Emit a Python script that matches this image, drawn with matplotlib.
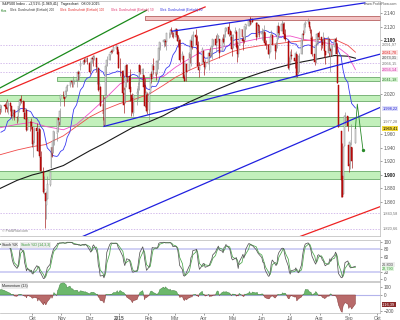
import pandas as pd
import matplotlib
matplotlib.use("Agg")
import matplotlib.pyplot as plt
import matplotlib.dates as mdates
import matplotlib.transforms as mtrans

plt.rcParams["font.family"] = ["Liberation Sans", "DejaVu Sans"]

# trading days Aug 2014 - Sep 2015 (first 20 rows only feed the indicators)
holidays = ["2014-09-01", "2014-11-27", "2014-12-25", "2015-01-01", "2015-01-19",
            "2015-02-16", "2015-04-03", "2015-05-25", "2015-07-03", "2015-09-07"]
dates = pd.bdate_range("2014-08-04", "2015-09-08", freq="C", holidays=holidays)

opens = [
    1926, 1937, 1918, 1923, 1910, 1934, 1936, 1935, 1947, 1959, 1958, 1972, 1980, 1987, 1992, 1992, 1998, 2000, 1998, 1999,
    2004, 2003, 2001, 1999, 2007, 2002, 1989, 1992, 1996, 1986, 1982, 1999, 2004, 2013, 2009, 1992, 1983, 1997, 1966, 1979, 1978,
    1971, 1945, 1948, 1970, 1964, 1935, 1968, 1926, 1905, 1878, 1874, 1855, 1865, 1885, 1910, 1941, 1932, 1952, 1962, 1964, 1984, 1978, 2012,
    2019, 2015, 2016, 2024, 2032, 2032, 2038, 2039, 2039, 2040, 2039, 2041, 2052, 2047, 2061, 2065, 2070, 2067, 2074,
    2066, 2054, 2067, 2074, 2072, 2074, 2056, 2058, 2028, 2030, 2005, 1986, 1974, 2019, 2061, 2070, 2081, 2083, 2084, 2087, 2089, 2082,
    2059, 2054, 2022, 2006, 2031, 2063, 2046, 2031, 2019, 2014, 1992, 2020, 2021, 2034, 2063, 2050, 2048, 2033, 2002, 2019,
    1997, 2022, 2049, 2043, 2062, 2053, 2050, 2068, 2070, 2088, 2097, 2099, 2098, 2097, 2110, 2109, 2115, 2113, 2110,
    2105, 2116, 2107, 2099, 2100, 2072, 2076, 2045, 2041, 2064, 2055, 2080, 2073, 2098, 2091, 2108, 2104, 2093, 2060, 2056, 2065, 2084,
    2067, 2060, 2064, 2081, 2077, 2081, 2091, 2102, 2093, 2097, 2105, 2102, 2084, 2102, 2098, 2107, 2113, 2120, 2108, 2113, 2105,
    2088, 2110, 2112, 2092, 2080, 2092, 2116, 2102, 2100, 2100, 2122, 2121, 2130, 2128, 2125, 2130, 2125, 2105, 2122, 2121,
    2109, 2110, 2111, 2112, 2096, 2093, 2080, 2082, 2107, 2107, 2092, 2084, 2098, 2102, 2121, 2113, 2124, 2124, 2109, 2103, 2099, 2062,
    2068, 2078, 2074, 2070, 2079, 2049, 2053, 2080, 2100, 2109, 2111, 2124, 2127, 2127, 2118, 2115, 2103, 2079, 2070, 2094, 2107, 2111,
    2104, 2097, 2096, 2100, 2083, 2081, 2102, 2081, 2086, 2083, 2089, 2102, 2095, 2076, 2034, 1965, 1898, 1872, 1943, 1987, 1987,
    1945, 1917, 1950, 1941, 1948,
]
highs = [
    1942, 1939, 1929, 1928, 1932, 1945, 1940, 1949, 1955, 1965, 1972, 1982, 1988, 1994, 1994, 2001, 2005, 2002, 1999, 2004,
    2006, 2009, 2012, 2008, 2008, 2002, 1996, 1997, 1996, 1987, 2002, 2010, 2012, 2019, 2009, 1996, 1999, 1997, 1986, 1980, 1985,
    1971, 1952, 1971, 1977, 1964, 1971, 1968, 1935, 1912, 1898, 1874, 1877, 1898, 1905, 1942, 1950, 1961, 1965, 1964, 1985, 1991, 1999, 2019,
    2024, 2016, 2024, 2032, 2034, 2038, 2041, 2040, 2046, 2041, 2043, 2056, 2052, 2054, 2071, 2071, 2074, 2074, 2075,
    2066, 2068, 2076, 2078, 2078, 2074, 2060, 2058, 2056, 2032, 2018, 2016, 2017, 2061, 2077, 2079, 2086, 2087, 2093, 2094, 2089, 2086,
    2073, 2055, 2030, 2030, 2064, 2065, 2050, 2057, 2019, 2021, 2020, 2029, 2038, 2064, 2063, 2058, 2048, 2043, 2025, 2023,
    2023, 2050, 2054, 2064, 2073, 2057, 2071, 2074, 2089, 2097, 2102, 2101, 2102, 2111, 2110, 2117, 2120, 2114, 2112,
    2118, 2116, 2107, 2105, 2101, 2083, 2076, 2050, 2066, 2065, 2082, 2080, 2106, 2098, 2114, 2117, 2107, 2098, 2067, 2067, 2089, 2084,
    2067, 2072, 2087, 2090, 2086, 2093, 2102, 2107, 2099, 2111, 2107, 2102, 2104, 2109, 2109, 2120, 2120, 2126, 2117, 2113, 2105,
    2109, 2120, 2115, 2099, 2093, 2118, 2117, 2106, 2111, 2121, 2124, 2131, 2134, 2134, 2133, 2132, 2126, 2126, 2123, 2122,
    2118, 2117, 2122, 2112, 2100, 2093, 2086, 2109, 2115, 2107, 2092, 2098, 2106, 2127, 2121, 2129, 2126, 2126, 2117, 2109, 2099, 2075,
    2083, 2086, 2078, 2083, 2079, 2075, 2081, 2100, 2111, 2115, 2125, 2128, 2132, 2128, 2121, 2117, 2106, 2079, 2095, 2110, 2111, 2114,
    2105, 2102, 2112, 2104, 2083, 2106, 2103, 2090, 2093, 2093, 2103, 2104, 2096, 2076, 2034, 1965, 1948, 1943, 1988, 1993, 1987,
    1945, 1949, 1975, 1941, 1971,
]
lows = [
    1921, 1914, 1911, 1904, 1904, 1934, 1929, 1935, 1945, 1941, 1958, 1972, 1976, 1986, 1984, 1992, 1998, 1996, 1991, 1994,
    1994, 1999, 1993, 1991, 1995, 1985, 1982, 1985, 1981, 1977, 1980, 1993, 2003, 2006, 1991, 1983, 1979, 1965, 1966, 1965, 1968,
    1941, 1926, 1948, 1958, 1935, 1926, 1927, 1906, 1874, 1872, 1821, 1835, 1865, 1883, 1910, 1927, 1932, 1945, 1951, 1964, 1974, 1974, 2002,
    2014, 2002, 2014, 2016, 2025, 2031, 2035, 2031, 2031, 2035, 2030, 2041, 2041, 2041, 2056, 2065, 2064, 2067, 2064,
    2049, 2054, 2066, 2062, 2070, 2052, 2035, 2024, 2028, 2002, 1982, 1972, 1974, 2019, 2061, 2070, 2079, 2081, 2084, 2086, 2079, 2058,
    2046, 2017, 1992, 2006, 2031, 2038, 2023, 2009, 1988, 1992, 1988, 2004, 2013, 2026, 2050, 2041, 2023, 2001, 1994, 1991,
    1981, 2022, 2036, 2043, 2049, 2041, 2050, 2057, 2070, 2085, 2089, 2093, 2091, 2085, 2103, 2104, 2109, 2104, 2103,
    2104, 2098, 2089, 2098, 2067, 2072, 2044, 2040, 2041, 2039, 2055, 2066, 2061, 2086, 2091, 2104, 2091, 2061, 2045, 2056, 2065, 2068,
    2048, 2057, 2056, 2076, 2075, 2072, 2091, 2092, 2083, 2097, 2100, 2073, 2084, 2095, 2091, 2104, 2113, 2106, 2100, 2094, 2077,
    2088, 2110, 2088, 2068, 2075, 2092, 2104, 2085, 2096, 2100, 2117, 2121, 2124, 2122, 2124, 2126, 2100, 2105, 2113, 2105,
    2100, 2099, 2111, 2093, 2086, 2079, 2073, 2082, 2107, 2093, 2072, 2082, 2088, 2102, 2108, 2113, 2119, 2108, 2102, 2098, 2057, 2056,
    2068, 2072, 2058, 2044, 2045, 2049, 2053, 2080, 2094, 2102, 2111, 2119, 2124, 2118, 2111, 2097, 2077, 2063, 2066, 2094, 2094, 2102,
    2085, 2088, 2096, 2075, 2064, 2081, 2076, 2052, 2076, 2078, 2079, 2094, 2070, 2036, 1971, 1867, 1868, 1872, 1943, 1975, 1965,
    1904, 1909, 1944, 1911, 1948,
]
closes = [
    1939, 1920, 1920, 1910, 1932, 1937, 1934, 1947, 1955, 1955, 1972, 1982, 1987, 1992, 1988, 1998, 2000, 2000, 1997, 2003,
    2002, 2001, 1998, 2008, 2002, 1988, 1996, 1997, 1986, 1984, 1999, 2002, 2011, 2010, 1994, 1983, 1998, 1966, 1983, 1978, 1972,
    1946, 1946, 1968, 1965, 1935, 1969, 1928, 1906, 1875, 1878, 1862, 1863, 1887, 1904, 1941, 1927, 1951, 1965, 1962, 1985, 1982, 1995, 2018,
    2018, 2012, 2024, 2031, 2032, 2038, 2040, 2038, 2039, 2040, 2041, 2052, 2049, 2053, 2064, 2069, 2067, 2073, 2068,
    2053, 2067, 2074, 2072, 2075, 2060, 2060, 2026, 2035, 2002, 1990, 1973, 2013, 2061, 2071, 2079, 2082, 2082, 2089, 2091, 2080, 2059,
    2058, 2021, 2003, 2026, 2062, 2045, 2028, 2023, 2011, 1993, 2019, 2023, 2032, 2063, 2052, 2057, 2030, 2002, 2021, 1995,
    2021, 2050, 2042, 2063, 2055, 2047, 2069, 2069, 2088, 2097, 2100, 2100, 2097, 2110, 2110, 2115, 2114, 2111, 2105,
    2117, 2108, 2099, 2101, 2071, 2079, 2044, 2040, 2066, 2053, 2081, 2074, 2100, 2089, 2108, 2104, 2092, 2061, 2056, 2061, 2086, 2068,
    2060, 2067, 2081, 2076, 2082, 2091, 2102, 2092, 2096, 2107, 2105, 2081, 2100, 2097, 2108, 2113, 2118, 2109, 2115, 2107, 2086,
    2108, 2114, 2089, 2080, 2088, 2116, 2105, 2099, 2098, 2121, 2123, 2129, 2128, 2126, 2131, 2126, 2104, 2123, 2121, 2107,
    2112, 2110, 2114, 2096, 2093, 2079, 2080, 2105, 2109, 2094, 2084, 2096, 2100, 2121, 2110, 2123, 2124, 2109, 2102, 2101, 2058, 2063,
    2077, 2077, 2069, 2081, 2047, 2051, 2077, 2100, 2109, 2107, 2124, 2127, 2128, 2119, 2114, 2102, 2080, 2068, 2093, 2109, 2109, 2104,
    2098, 2093, 2100, 2084, 2078, 2104, 2084, 2086, 2083, 2092, 2102, 2097, 2080, 2036, 1971, 1893, 1868, 1941, 1988, 1989, 1972,
    1914, 1949, 1951, 1921, 1969,
]

# longer moving averages
ma_dates = ["2014-08-28", "2014-09-15", "2014-10-01", "2014-10-15", "2014-11-03", "2014-11-17",
            "2014-12-01", "2014-12-15", "2015-01-02", "2015-01-15", "2015-02-02", "2015-02-17",
            "2015-03-02", "2015-03-16", "2015-04-01", "2015-04-15", "2015-05-01", "2015-05-15",
            "2015-06-01", "2015-06-15", "2015-07-01", "2015-07-15", "2015-08-03", "2015-08-17",
            "2015-08-31", "2015-09-08"]
sma200 = [1880, 1892, 1900, 1905, 1914, 1925, 1936, 1946, 1960, 1970, 1979, 1988, 1998, 2008,
          2018, 2027, 2036, 2044, 2052, 2058, 2064, 2068, 2073, 2077, 2076, 2073]
sma100 = [1930, 1937, 1942, 1945, 1958, 1972, 1986, 1996, 2006, 2011, 2020, 2033, 2045, 2055,
          2065, 2073, 2083, 2088, 2092, 2094, 2097, 2099, 2101, 2101, 2092, 2082]
sma50 = [1970, 1975, 1978, 1972, 1967, 1975, 1992, 2010, 2035, 2043, 2043, 2046, 2060, 2072,
         2085, 2088, 2093, 2098, 2103, 2105, 2106, 2101, 2097, 2093, 2078, 2056]

# support / resistance zones (low, high, start date)
green_zones = [(2039.5, 2044.5, "2014-10-27"), (2010, 2018, "2014-08-20"),
               (1972, 1986, "2014-08-20"), (1894, 1906, "2014-08-20")]
red_zone = (2130, 2135, "2015-01-28")
dotted_levels = [2091.97, 2066.15, 2053.0, 1843.6, 1820.66]

# trend lines: (date0, price0, date1, price1, colour)
trend_lines = [
    ("2014-08-28", 2029, "2015-01-30", 2144, "#1a8a1a"),
    ("2014-08-28", 2021, "2015-04-02", 2149, "#ee2222"),
    ("2015-02-26", 2113, "2015-09-18", 2155, "#2020e0"),
    ("2014-12-16", 1972, "2015-10-04", 2079, "#2020e0"),
    ("2014-11-17", 1805, "2015-10-04", 2000, "#2020e0"),
    ("2015-07-04", 1805, "2015-10-04", 1853, "#ee2222"),
]
proj_dates = ["2015-09-08", "2015-09-10", "2015-09-16"]
proj_prices = [1969, 2005, 1937]

right_labels = [
    ("2.091,97", 2093.0, "#707070", None),
    ("2.081,70", 2081.7, "#dd2222", "#fbe0e0"),
    ("2.073,31", 2073.3, "#404040", "#f0f0f0"),
    ("2.066,15", 2065.5, "#707070", None),
    ("2.056,14", 2056.1, "#d0209a", "#fbe0f4"),
    ("2.041,18", 2041.2, "#2a7a2a", "#d8f4d4"),
    ("1.998,22", 1998.2, "#2020d0", "#e0e0fb"),
    ("1.977,28", 1978.5, "#707070", None),
    ("1.969,41", 1969.4, "#000000", "#f5dc3c"),
    ("1.843,58", 1843.6, "#707070", None),
    ("1.820,66", 1820.7, "#707070", None),
]
price_ticks = [1860, 1880, 1900, 1920, 1940, 1960, 2020, 2100, 2120, 2140]
month_starts = ["2014-10-01", "2014-11-01", "2014-12-01", "2015-01-01", "2015-02-01", "2015-03-01",
                "2015-04-01", "2015-05-01", "2015-06-01", "2015-07-01", "2015-08-01", "2015-09-01",
                "2015-10-01"]
month_labels = ["Okt", "Nov", "Dez", "2015", "Feb", "Mär", "Apr", "Mai", "Jun", "Jul", "Aug", "Sep", "Okt"]

df = pd.DataFrame({"o": opens, "h": highs, "l": lows, "c": closes}, index=dates)
x = mdates.date2num(df.index)
sma20 = df.c.rolling(20).mean()
ll = df.l.rolling(14).min()
hh = df.h.rolling(14).max()
slow_k = (100 * (df.c - ll) / (hh - ll)).rolling(3).mean()
slow_d = slow_k.rolling(3).mean()
mom = df.c - df.c.shift(13)

x0 = mdates.date2num(pd.Timestamp("2014-08-28"))
x1 = mdates.date2num(pd.Timestamp("2015-10-04"))
d2n = lambda s: mdates.date2num(pd.Timestamp(s))

fig = plt.figure(figsize=(4, 3.2), dpi=100)
ax = fig.add_axes([0, 1 - 236 / 320, 380 / 400, 235 / 320])
ax_st = fig.add_axes([0, 1 - 281 / 320, 380 / 400, 41 / 320])
ax_mo = fig.add_axes([0, 1 - 313 / 320, 380 / 400, 31 / 320])

for a in (ax, ax_st, ax_mo):
    a.set_xlim(x0, x1)
    a.yaxis.tick_right()
    a.tick_params(axis="both", labelsize=3.4, length=1.5, width=0.4, pad=1,
                  colors="#555555")
    for sp in a.spines.values():
        sp.set_color("#b8b8b8")
        sp.set_linewidth(0.5)
    a.spines["left"].set_visible(False)
ax.set_xticks([])
ax_st.set_xticks([])

# zones and levels
for lo, hi, start in green_zones:
    ax.fill_between([d2n(start), x1], lo, hi, facecolor="#c2f0bb", edgecolor="#6aaa6a",
                    lw=0.6, zorder=1)
ax.fill_between([d2n(red_zone[2]), x1], red_zone[0], red_zone[1], facecolor="#f3c4c4",
                edgecolor="#b86262", lw=0.6, zorder=1)
ax.hlines(dotted_levels, x0, x1, colors="#c4a2e4", linestyles=(0, (2, 2)), lw=0.5, zorder=1)

# moving averages
mx = mdates.date2num(pd.to_datetime(ma_dates))
ax.plot(mx, sma200, color="#1a1a1a", lw=0.8, zorder=2)
ax.plot(mx, sma100, color="#f04a4a", lw=0.6, zorder=2)
ax.plot(mx, sma50, color="#f050c8", lw=0.6, zorder=2)
ax.plot(x, sma20, color="#3a3af0", lw=0.6, zorder=2)

# candles
up = (df.c >= df.o).values
dn = ~up
ax.vlines(x[up], df.l[up], df.h[up], color="#8a8a8a", lw=0.45, zorder=3)
ax.vlines(x[dn], df.l[dn], df.h[dn], color="#a01010", lw=0.45, zorder=3)
body = (df.c - df.o).abs().clip(lower=0.8)
bottom = df[["o", "c"]].min(axis=1)
ax.bar(x[up], body[up], bottom=bottom[up], width=0.95, color="#f6f6f6",
       edgecolor="#8a8a8a", lw=0.35, zorder=4)
ax.bar(x[dn], body[dn], bottom=bottom[dn], width=0.95, color="#d21414",
       edgecolor="#a00000", lw=0.35, zorder=4)

# trend lines
for da, pa, db, pb, col in trend_lines:
    ax.plot([d2n(da), d2n(db)], [pa, pb], color=col, lw=0.9, zorder=5)
px = [d2n(d) for d in proj_dates]
ax.plot(px, proj_prices, color="#2a8a2a", lw=0.6, zorder=5)
ax.plot(px[-1], proj_prices[-1], marker="o", ms=1.4, color="#2a8a2a", zorder=5)

ax.set_ylim(1809.6, 2157.8)
ax.set_yticks(price_ticks)
ax.set_yticklabels([f"{v:,}".replace(",", ".") for v in price_ticks])
for t, v in zip(ax.get_yticklabels(), price_ticks):
    if v % 100 == 0:
        t.set_fontweight("bold")
        t.set_color("#222222")

tr = mtrans.blended_transform_factory(ax.transAxes, ax.transData)
for txt, val, col, bg in right_labels:
    kw = dict(boxstyle="square,pad=0.12", fc=bg, ec="none") if bg else None
    ax.text(1.006, val, txt, transform=tr, fontsize=2.8, color=col, va="center",
            ha="left", bbox=kw, clip_on=False, zorder=6)

# header
fig.text(0.004, 1 - 4 / 320, "S&P500 Index - +2,51% (1.969,41)   Tageschart   08.09.2015",
         fontsize=2.6, color="#111111", va="center")
hdr = [("Kurs", "#1a7a1a", 1), ("Gleit. Durchschnitt (Einfach) 200", "#333333", 10),
       ("Gleit. Durchschnitt (Einfach) 100", "#e02a2a", 60),
       ("Gleit. Durchschnitt (Einfach) 50", "#e0306a", 111),
       ("Gleit. Durchschnitt (Einfach) 20", "#2a2ae0", 160)]
for txt, col, xp in hdr:
    fig.text(xp / 400, 1 - 10.5 / 320, txt, fontsize=2.2, color=col, va="center")
fig.text(0.99, 1 - 4 / 320, "www.ProfitFlow.com", fontsize=2.6, color="#555555",
         ha="right", va="center")
ax.text(0.004, 0.015, "© ProfitFlow.com", transform=ax.transAxes, fontsize=2.4,
        color="#777777", zorder=6)

# stochastics
ax_st.axhline(80, color="#c8c8f2", lw=1.2, zorder=1)
ax_st.axhline(20, color="#c8c8f2", lw=1.2, zorder=1)
ax_st.plot(x, slow_k, color="#555555", lw=0.55, zorder=3)
ax_st.plot(x, slow_d, color="#4aa84a", lw=0.55, zorder=2)
ax_st.set_ylim(-5.4, 105.4)
ax_st.set_yticks([0, 20, 60, 80, 100])
ax_st.text(0.004, 0.93, "Stoch %K", transform=ax_st.transAxes, fontsize=2.6,
           color="#222222", va="top", bbox=dict(boxstyle="square,pad=0.2", fc="#ececec", ec="none"))
ax_st.text(0.055, 0.93, "Stoch %D (14,3,3)", transform=ax_st.transAxes, fontsize=2.6,
           color="#3a9a3a", va="top", bbox=dict(boxstyle="square,pad=0.2", fc="#ececec", ec="none"))
trs = mtrans.blended_transform_factory(ax_st.transAxes, ax_st.transData)
ax_st.text(1.006, 40, "26,803", transform=trs, fontsize=2.8, color="#444444", va="center",
           bbox=dict(boxstyle="square,pad=0.12", fc="#eeeeee", ec="none"), clip_on=False)
ax_st.text(1.006, 29, "22,790", transform=trs, fontsize=2.8, color="#3a9a3a", va="center",
           bbox=dict(boxstyle="square,pad=0.12", fc="#e2f4e0", ec="none"), clip_on=False)

# momentum
ax_mo.axhline(0, color="#b4b4ec", lw=0.8, zorder=1)
ax_mo.fill_between(x, 0, mom, where=mom >= 0, interpolate=True, facecolor="#6cb86c",
                   edgecolor="#3a7a3a", lw=0.3, zorder=2)
ax_mo.fill_between(x, 0, mom, where=mom < 0, interpolate=True, facecolor="#b86a6a",
                   edgecolor="#7a2a2a", lw=0.3, zorder=2)
ax_mo.set_ylim(-225, 162)
ax_mo.set_yticks([-200, 0, 100])
ax_mo.text(0.004, 0.93, "Momentum (13)", transform=ax_mo.transAxes, fontsize=2.6,
           color="#222222", va="top", bbox=dict(boxstyle="square,pad=0.2", fc="#ececec", ec="none"))
trm = mtrans.blended_transform_factory(ax_mo.transAxes, ax_mo.transData)
ax_mo.text(1.006, -116.39, "-116,39", transform=trm, fontsize=2.8, color="#ffffff",
           va="center", bbox=dict(boxstyle="square,pad=0.12", fc="#8a2a2a", ec="none"),
           clip_on=False)

ax_mo.set_xticks([d2n(d) for d in month_starts])
ax_mo.set_xticklabels(month_labels)
for t, lab in zip(ax_mo.get_xticklabels(), month_labels):
    if lab == "2015":
        t.set_fontweight("bold")

fig.savefig("out.png", dpi=100, facecolor="white")
